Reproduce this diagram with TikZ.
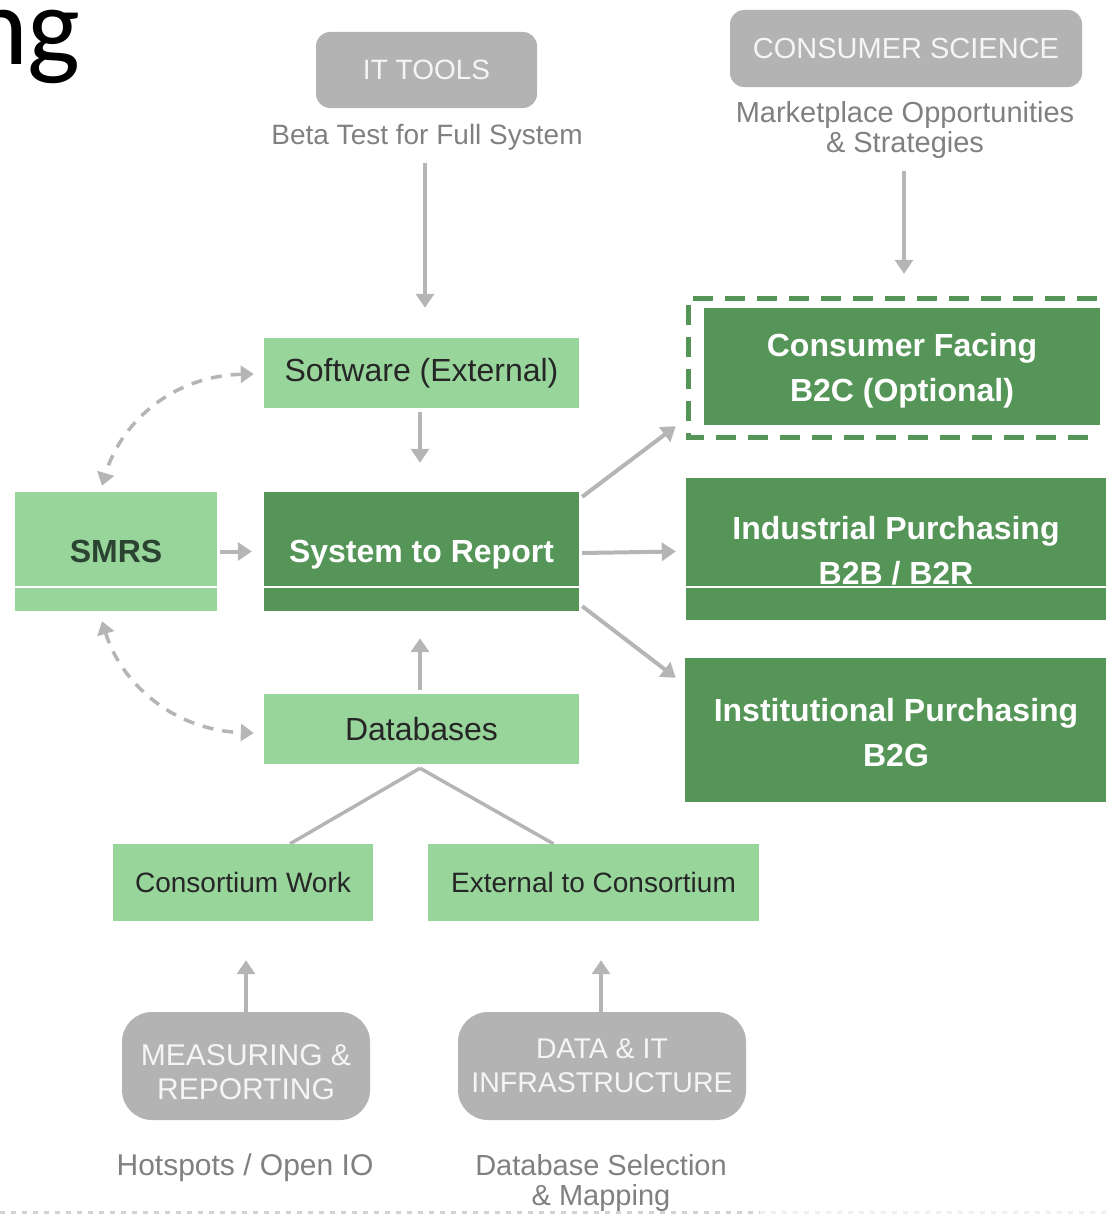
\documentclass[tikz,border=0pt]{standalone}
\usepackage{fontspec}
\setmainfont{Liberation Sans}
\newfontfamily\titlefont{Carlito}
\usetikzlibrary{arrows.meta}
\definecolor{darkgreen}{HTML}{559558}
\definecolor{lightgreen}{HTML}{98D59B}
\definecolor{boxgray}{HTML}{B3B3B3}
\definecolor{linegray}{HTML}{B5B5B5}
\definecolor{textgray}{HTML}{808080}
\definecolor{smrstext}{HTML}{2B4331}
\newcommand{\fs}[1]{\fontsize{#1}{#1}\selectfont}
\begin{document}
\begin{tikzpicture}[x=1pt,y=-1pt,
  heading/.style={fill=boxgray, rounded corners=14pt, text=white!96!black,
    inner sep=0pt, align=center, font=\fs{28}},
  roundbox/.style={heading, rounded corners=30pt, font=\fs{30}, align=center},
  lightbox/.style={fill=lightgreen, inner sep=0pt, text=black!85, font=\fs{32}},
  darkbox/.style={fill=darkgreen, inner sep=0pt, text=white, align=center,
    font=\fs{32}\bfseries},
  note/.style={text=textgray, align=center, inner sep=0pt},
  arr/.style={draw=linegray, line width=4pt, -{Triangle[length=14pt,width=18pt]}},
  plainline/.style={draw=linegray, line width=3.5pt},
  dasharr/.style={draw=linegray, line width=3.5pt, dash pattern=on 11pt off 9pt,
    {Triangle[length=13pt,width=17pt]}-{Triangle[length=13pt,width=17pt]}},
  divider/.style={draw=white, line width=1.5pt}]
\useasboundingbox (0,0) rectangle (1106,1215);

% title fragment
\node[anchor=base west, inner sep=0pt, font=\titlefont\fs{112}] (title) at (-31,65) {ng};

% header boxes and notes
\node[heading, minimum width=221pt, minimum height=76pt] (ittools) at (426.5,70) {IT TOOLS};
\node[note, font=\fs{28}] (beta) at (427,137) {Beta Test for Full System};
\node[heading, minimum width=352pt, minimum height=77pt, font=\fs{29}] (cs) at (906,48.5) {CONSUMER SCIENCE};
\node[note, font=\fs{29}, align=center] (mkt) at (905,130) {Marketplace Opportunities\\[1pt]\& Strategies};

% main column
\node[lightbox, minimum width=315pt, minimum height=70pt] (sw) at (421.5,373) {Software (External)};
\node[lightbox, minimum width=202pt, minimum height=119pt, font=\fs{32}\bfseries, text=smrstext] (smrs) at (116,551.5) {SMRS};
\node[darkbox, minimum width=315pt, minimum height=119pt, text depth=0pt] (str) at (421.5,551.5) {System to Report};
\node[lightbox, minimum width=315pt, minimum height=70pt] (db) at (421.5,729) {Databases};

% outputs
\draw[darkgreen, line width=5pt, dash pattern=on 20pt off 12pt] (1097,298) -- (688,298) -- (688,437) -- (1097,437);
\node[darkbox, minimum width=396pt, minimum height=117pt] (cf) at (902,366.5)
  {}; \node[darkbox, inner sep=0pt] (cftext) at (902,370.5) {Consumer Facing\\[13pt]B2C (Optional)};
\node[darkbox, minimum width=420pt, minimum height=142pt] (ind) at (896,549) {};
\node[darkbox, fill=none] (indtext) at (896,551) {Industrial Purchasing\\[13pt]B2B / B2R};
\node[darkbox, minimum width=421pt, minimum height=144pt] (inst) at (895.5,730) {};
\node[darkbox, fill=none] (insttext) at (896,733) {Institutional Purchasing\\[13pt]B2G};

% dividers across the lower part of the boxes
\draw[divider] (smrs.west |- 0,587) -- (smrs.east |- 0,587);
\draw[divider] (str.west |- 0,587) -- (str.east |- 0,587);
\draw[divider] (ind.west |- 0,587) -- (ind.east |- 0,587);

% sources
\node[lightbox, minimum width=260pt, minimum height=77pt, font=\fs{28}] (cw) at (243,882.5) {Consortium Work};
\node[lightbox, minimum width=331pt, minimum height=77pt, font=\fs{28}] (ext) at (593.5,882.5) {External to Consortium};
\node[roundbox, minimum width=248pt, minimum height=108pt] (mr) at (246,1066) {};
\node[roundbox, fill=none] (mrtext) at (246,1072) {MEASURING \&\\[4pt]REPORTING};
\node[roundbox, minimum width=288pt, minimum height=108pt, font=\fs{28.5}] (dit) at (602,1066) {DATA \& IT\\[5pt]INFRASTRUCTURE};
\node[note, font=\fs{30}] (hot) at (245,1168) {Hotspots / Open IO};
\node[note, font=\fs{29}] (dbsel) at (601,1183) {Database Selection\\[1pt]\& Mapping};

% connectors
\draw[arr] ([xshift=-2pt,yshift=-13pt]beta.south) -- ([xshift=3.5pt,yshift=30pt]sw.north);
\draw[arr] ([xshift=-1pt,yshift=-12pt]mkt.south) -- ([xshift=2pt,yshift=34pt]cf.north);
\draw[arr] ([xshift=-1.5pt,yshift=-4pt]sw.south) -- ([xshift=-1.5pt,yshift=29pt]str.north);
\draw[arr] ([xshift=3pt]smrs.east) -- ([xshift=-12pt]str.west);
\draw[arr] ([xshift=-1.5pt,yshift=4pt]db.north) -- ([xshift=-1.5pt,yshift=-27pt]str.south);
\draw[arr] ([xshift=3pt,yshift=-5pt]str.north east) -- ([xshift=-28pt,yshift=-1pt]cf.south west);
\draw[arr] ([xshift=3pt,yshift=-1.5pt]str.east) -- ([xshift=-10pt]str.east -| ind.west);
\draw[arr] ([xshift=3pt,yshift=5pt]str.south east) -- ([xshift=-9pt,yshift=-20pt]inst.north west);
\draw[plainline] ([xshift=-1.5pt,yshift=-4pt]db.south) -- ([xshift=47pt]cw.north);
\draw[plainline] ([xshift=-1.5pt,yshift=-4pt]db.south) -- ([xshift=-40pt]ext.north);
\draw[arr] ([yshift=-1pt]mr.north) -- ([xshift=3pt,yshift=-39pt]cw.south);
\draw[arr] ([xshift=-1pt,yshift=-1pt]dit.north) -- ([xshift=7.5pt,yshift=-39pt]ext.south);

% dashed feedback loops
\draw[dasharr] ([xshift=-10pt,yshift=-1pt]sw.west) .. controls (170,376) and (120,425) .. ([xshift=-14pt,yshift=6pt]smrs.north);
\draw[dasharr] ([xshift=-14pt,yshift=-10pt]smrs.south) .. controls (120,680) and (170,730) .. ([xshift=-10pt,yshift=-4pt]db.west);

% dotted rule along the bottom edge
\draw[gray!35, line width=3pt, dash pattern=on 5pt off 6pt] (0,1212) -- (760,1212);
\draw[gray!12, line width=3pt, dash pattern=on 5pt off 6pt] (760,1212) -- (1106,1212);
\end{tikzpicture}
\end{document}
